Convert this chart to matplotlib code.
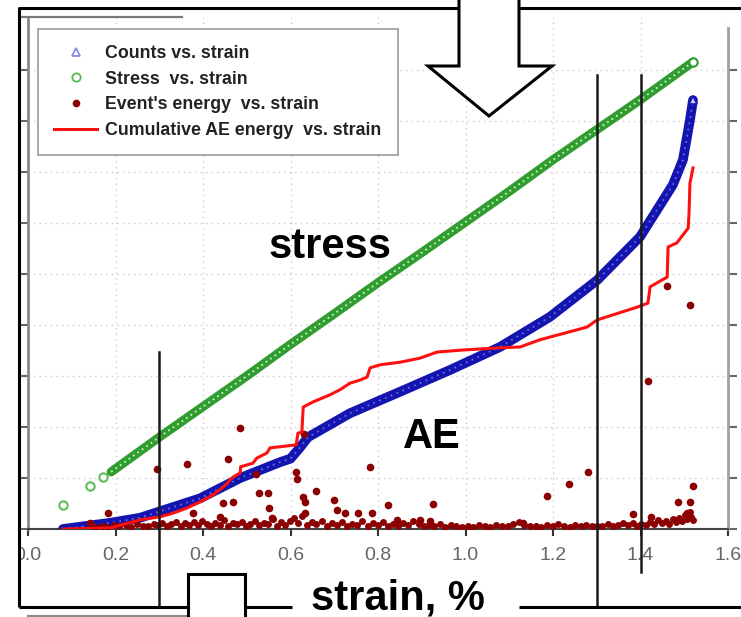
import matplotlib
matplotlib.use("Agg")
import matplotlib.pyplot as plt
from matplotlib.lines import Line2D
from matplotlib.patches import Polygon, Rectangle

plt.rcParams["font.family"] = ["Liberation Sans", "DejaVu Sans"]

# ---- data: strain in %, ordinates in grid units (one unit per y tick) ----
stress_sparse_x = [0.080, 0.142, 0.172]
stress_sparse_y = [0.47, 0.84, 1.02]
stress_x = [0.19, 0.30, 0.40, 0.50, 0.60, 0.70, 0.80, 0.90, 1.00, 1.10, 1.20, 1.30, 1.40, 1.52]
stress_y = [1.12, 1.80, 2.40, 3.00, 3.62, 4.22, 4.83, 5.42, 6.02, 6.62, 7.24, 7.83, 8.42, 9.16]

counts_x = [0.080, 0.187, 0.256, 0.393, 0.485, 0.576, 0.600, 0.620, 0.640, 0.736, 0.850, 0.965,
            1.079, 1.193, 1.301, 1.399, 1.474, 1.497, 1.513, 1.520]
counts_y = [0.00, 0.12, 0.22, 0.60, 1.00, 1.31, 1.38, 1.58, 1.80, 2.27, 2.69, 3.12,
            3.57, 4.16, 4.88, 5.73, 6.75, 7.24, 8.02, 8.41]

cum_x = [0.080, 0.187, 0.256, 0.302, 0.331, 0.363, 0.393, 0.423, 0.446, 0.469, 0.485,
         0.486, 0.514, 0.523, 0.546, 0.553, 0.613, 0.617, 0.626, 0.629, 0.651, 0.690,
         0.713, 0.736, 0.759, 0.775, 0.782, 0.805, 0.850, 0.896, 0.935, 0.994, 1.072,
         1.125, 1.170, 1.278, 1.301, 1.392, 1.417, 1.422, 1.461, 1.463, 1.483, 1.509,
         1.511, 1.513, 1.520]
cum_y = [0.00, 0.02, 0.18, 0.24, 0.31, 0.41, 0.53, 0.67, 0.82, 1.02, 1.10,
         1.22, 1.29, 1.39, 1.49, 1.59, 1.65, 1.88, 1.90, 2.39, 2.49, 2.63,
         2.73, 2.86, 2.92, 2.98, 3.16, 3.22, 3.27, 3.35, 3.47, 3.51, 3.55,
         3.57, 3.71, 3.96, 4.10, 4.35, 4.43, 4.75, 4.94, 5.53, 5.61, 5.90,
         6.20, 6.78, 7.08]

# individual AE events: low-energy band along the axis ...
event_low_x = [
    0.152, 0.168, 0.181, 0.197, 0.209, 0.224, 0.236, 0.249, 0.262, 0.275,
    0.288, 0.297, 0.306, 0.318, 0.327, 0.338, 0.349, 0.358, 0.369, 0.379,
    0.388, 0.398, 0.409, 0.419, 0.428, 0.439, 0.449, 0.458, 0.469, 0.478,
    0.489, 0.499, 0.508, 0.519, 0.528, 0.539, 0.548, 0.559, 0.568, 0.579,
    0.588, 0.598, 0.607, 0.616, 0.626, 0.637, 0.648, 0.659, 0.671, 0.683,
    0.694, 0.706, 0.717, 0.729, 0.741, 0.752, 0.764, 0.776, 0.788, 0.799,
    0.811, 0.823, 0.834, 0.846, 0.858, 0.869, 0.881, 0.893, 0.905, 0.917,
    0.928, 0.941, 0.953, 0.966, 0.979, 0.992, 1.005, 1.018, 1.031, 1.044,
    1.057, 1.070, 1.083, 1.096, 1.109, 1.122, 1.134, 1.147, 1.160, 1.173,
    1.186, 1.199, 1.212, 1.225, 1.238, 1.251, 1.263, 1.276, 1.289, 1.301,
    1.313, 1.325, 1.337, 1.349, 1.360, 1.371, 1.382, 1.392, 1.402, 1.412,
    1.422, 1.431, 1.440, 1.449, 1.458, 1.466, 1.474, 1.481, 1.488, 1.495,
    1.501, 1.507, 1.512, 1.516, 1.520]
event_low_y = [
    0.04, 0.06, 0.03, 0.08, 0.05, 0.07, 0.04, 0.09, 0.06, 0.05,
    0.10, 0.07, 0.12, 0.05, 0.09, 0.14, 0.06, 0.11, 0.08, 0.13,
    0.07, 0.15, 0.10, 0.06, 0.12, 0.08, 0.18, 0.05, 0.11, 0.09,
    0.14, 0.06, 0.10, 0.16, 0.07, 0.12, 0.09, 0.20, 0.06, 0.13,
    0.08, 0.15, 0.22, 0.11, 0.26, 0.07, 0.13, 0.09, 0.16, 0.06,
    0.12, 0.08, 0.14, 0.05, 0.10, 0.07, 0.15, 0.06, 0.11, 0.08,
    0.13, 0.05, 0.09, 0.06, 0.12, 0.07, 0.16, 0.10, 0.05, 0.08,
    0.06, 0.09, 0.04, 0.07, 0.05, 0.03, 0.06, 0.04, 0.07, 0.05,
    0.04, 0.08, 0.05, 0.06, 0.09, 0.14, 0.07, 0.05, 0.06, 0.04,
    0.07, 0.05, 0.10, 0.06, 0.04, 0.08, 0.05, 0.07, 0.06, 0.05,
    0.06, 0.09, 0.05, 0.08, 0.11, 0.07, 0.12, 0.06, 0.10, 0.08,
    0.14, 0.09, 0.17, 0.11, 0.15, 0.10, 0.19, 0.13, 0.22, 0.16,
    0.28, 0.20, 0.34, 0.24, 0.18]
# ... and the stronger events above it
event_high_x = [0.142, 0.183, 0.295, 0.363, 0.377, 0.439, 0.446, 0.457, 0.469, 0.485,
                0.521, 0.528, 0.548, 0.551, 0.558, 0.613, 0.615, 0.629, 0.631, 0.632,
                0.634, 0.658, 0.699, 0.706, 0.725, 0.754, 0.782, 0.786, 0.822, 0.843,
                0.896, 0.919, 0.926, 1.131, 1.186, 1.237, 1.280, 1.383, 1.417, 1.424,
                1.461, 1.486, 1.506, 1.513, 1.513, 1.520]
event_high_y = [0.12, 0.31, 1.18, 1.27, 0.31, 0.24, 0.51, 1.37, 0.53, 1.98,
                1.08, 0.71, 0.71, 0.41, 0.22, 1.12, 0.98, 0.63, 1.86, 0.52,
                0.31, 0.75, 0.57, 0.38, 0.31, 0.32, 1.22, 0.31, 0.47, 0.18,
                0.18, 0.16, 0.49, 0.12, 0.65, 0.88, 1.12, 0.29, 2.90, 0.24,
                4.76, 0.53, 0.31, 0.53, 4.39, 0.84]

marker_strains = [0.30, 1.30, 1.40]
marker_tops = [3.47, 8.90, 8.90]
marker_bottoms = [-1.53, -1.53, -0.84]

legend_labels = ["Counts vs. strain", "Stress  vs. strain",
                 "Event's energy  vs. strain", "Cumulative AE energy  vs. strain"]
xticks = [0.0, 0.2, 0.4, 0.6, 0.8, 1.0, 1.2, 1.4, 1.6]

GREEN, BLUE, DARKRED, RED = "#2f9e2f", "#1414b0", "#8b0000", "#ff1010"
W, H = 741, 617

fig = plt.figure(figsize=(W / 100, H / 100), dpi=100)
ax = fig.add_axes([28 / W, 88 / H, 700 / W, 512 / H])
ax.set_xlim(0, 1.6)
ax.set_ylim(0, 10.04)

# stress: dense hollow circles -> thick band with light core
ax.plot(stress_sparse_x, stress_sparse_y, "o", ms=6, mfc="none", mec="#5cbf5c", mew=1.5, zorder=3)
ax.plot(stress_x, stress_y, color=GREEN, lw=6.5, solid_capstyle="round", zorder=3)
ax.plot(stress_x, stress_y, color="white", lw=1.3, ls=(0, (1, 2)), alpha=0.8, zorder=3)
ax.plot(stress_x[-1], stress_y[-1], "o", ms=6, mfc="white", mec=GREEN, mew=1.5, zorder=3)

# counts: dense hollow triangles
ax.plot(counts_x, counts_y, color=BLUE, lw=7, solid_capstyle="round", solid_joinstyle="round", zorder=3)
ax.plot(counts_x, counts_y, color="#8c8cf0", lw=1.3, ls=(0, (1, 2.5)), alpha=0.7, zorder=3)
ax.plot(counts_x[-1], counts_y[-1], "^", ms=6, mfc="#c8c8ff", mec=BLUE, mew=1.2, zorder=3)

ax.plot(event_low_x, event_low_y, "o", ms=5, color=DARKRED, mec="none", zorder=4)
ax.plot(event_high_x, event_high_y, "o", ms=5.5, color=DARKRED, mec="none", zorder=4)

ax.plot(cum_x, cum_y, color=RED, lw=2.2, zorder=5)

for xs, y0, y1 in zip(marker_strains, marker_bottoms, marker_tops):
    ax.plot([xs, xs], [y0, y1], color="#1a1a1a", lw=1.8, clip_on=False, zorder=6)

ax.set_xticks(xticks)
ax.set_xticklabels([f"{v:.1f}" for v in xticks])
ax.set_yticks(range(10))
ax.set_yticklabels([])
ax.grid(True, ls=(0, (1, 3)), color="#cfc6dc", lw=1.0)
ax.set_axisbelow(True)
ax.tick_params(axis="x", direction="out", length=5, width=1.5, color="#333333",
               labelsize=14, labelcolor="#666666", pad=8)
ax.tick_params(axis="y", direction="out", length=6.5, width=1.5, color="#666666",
               right=True, left=True)
ax.spines["top"].set_visible(False)
ax.spines["left"].set_color("#8a8a8a")
ax.spines["left"].set_linewidth(2)
ax.spines["right"].set_color("#a0a0a0")
ax.spines["right"].set_linewidth(2)
ax.spines["right"].set_bounds(0, 9.82)
ax.spines["bottom"].set_color("#444444")
ax.spines["bottom"].set_linewidth(1.5)

handles = [
    Line2D([], [], ls="none", marker="^", ms=6, mfc="none", mec="#8c8ce6", mew=1.3),
    Line2D([], [], ls="none", marker="o", ms=6, mfc="none", mec="#55bb55", mew=1.3),
    Line2D([], [], ls="none", marker="o", ms=5.5, color=DARKRED, mec="none"),
    Line2D([], [], color=RED, lw=2.2),
]
leg = ax.legend(handles, legend_labels, loc="upper left", bbox_to_anchor=(0.0143, 0.977),
                borderaxespad=0, prop={"size": 12.8, "weight": "bold"}, fancybox=False,
                framealpha=1, edgecolor="#9a9a9a", handlelength=2.4, handletextpad=0.45,
                labelspacing=0.48, borderpad=0.92)
leg.get_frame().set_linewidth(1.2)
for t in leg.get_texts():
    t.set_color("#222222")
leg.set_zorder(8)

# slide decorations drawn in pixel coordinates on top of the chart
ov = fig.add_axes([0, 0, 1, 1], zorder=10)
ov.set_xlim(0, W)
ov.set_ylim(H, 0)
ov.axis("off")
ov.patch.set_alpha(0)

ov.add_patch(Rectangle((0, 0), 18, H, color="white", zorder=1))
ov.plot([20, 182], [17, 17], color="#7a7a7a", lw=1.6)
ov.plot([28, 188], [616, 616], color="#8a8a8a", lw=1.5)
frame_kw = dict(color="black", lw=2.2, solid_capstyle="butt")
ov.plot([19, 19, 459], [607, 8, 8], **frame_kw)
ov.plot([519, W], [8, 8], **frame_kw)
ov.plot([19, 188], [607, 607], **frame_kw)
ov.plot([245, 292], [607, 607], **frame_kw)
ov.plot([519, W], [607, 607], **frame_kw)

arrow = [(459, -5), (459, 66), (428, 66), (489, 116), (552, 66), (519, 66), (519, -5)]
ov.add_patch(Polygon(arrow, closed=True, facecolor="white", edgecolor="black", lw=2.2, zorder=3))
ov.add_patch(Rectangle((188, 574), 57, 60, facecolor="white", edgecolor="black", lw=2.2, zorder=3))

txt_kw = dict(fontsize=30, fontweight="bold", color="black", ha="center", va="baseline")
ov.text(330, 258, "stress", **txt_kw)
ov.text(432, 448, "AE", **txt_kw)
ov.text(398, 609, "strain, %", **txt_kw)

fig.savefig("out.png", dpi=100)
